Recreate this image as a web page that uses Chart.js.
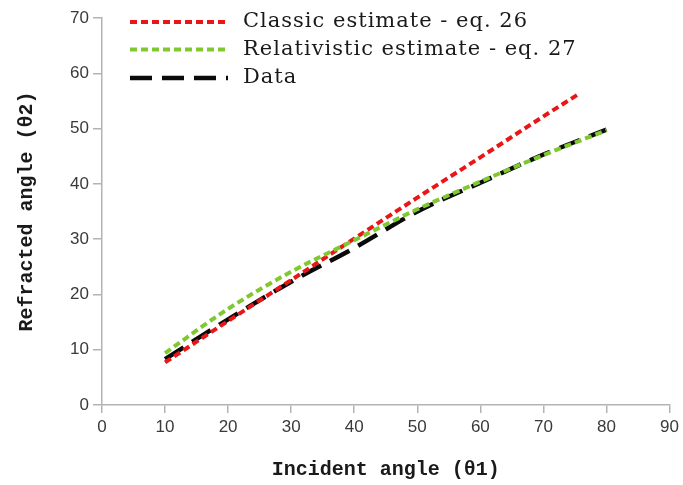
<!DOCTYPE html>
<html>
<head>
<meta charset="utf-8">
<script src="https://cdn.jsdelivr.net/npm/chart.js@4"></script>
<style>
  html, body { margin: 0; padding: 0; background: #fff; }
  #wrap { width: 683px; height: 485px; }
</style>
</head>
<body>
<div id="wrap"><canvas id="c" width="683" height="485"></canvas></div>
<script>
// ---- data ----
const classicX = [10, 20, 30, 40, 50, 60, 70, 75.4];
const classicY = [7.7, 15.2, 22.6, 30.1, 37.5, 44.8, 52.2, 56.1];
const relX = [10, 20, 30, 40, 50, 60, 70, 80];
const relY = [9.4, 17.4, 24.1, 29.8, 35.4, 40.4, 45.2, 49.7];
const dataX = [10, 20, 30, 40, 50, 60, 70, 80];
const dataY = [8.3, 15.5, 22.3, 28.4, 35.0, 40.2, 45.3, 49.8];
const seriesNames = ['Classic estimate - eq. 26', 'Relativistic estimate - eq. 27', 'Data'];
const xTitle = 'Incident angle (\u03B81)';
const yTitle = 'Refracted angle (\u03B82)';

const pts = (xs, ys) => xs.map((x, i) => ({x: x, y: ys[i]}));

const RED = 'rgb(232,22,22)';
const GREEN = 'rgb(128,200,48)';
const BLACK = 'rgb(10,10,10)';

const datasets = [
  { label: seriesNames[0], data: pts(classicX, classicY), borderColor: RED, borderWidth: 4, borderDash: [7, 4], order: 2 },
  { label: seriesNames[1], data: pts(relX, relY), borderColor: GREEN, borderWidth: 4, borderDash: [7, 4], order: 1 },
  { label: seriesNames[2], data: pts(dataX, dataY), borderColor: BLACK, borderWidth: 4.5, borderDash: [22, 10], order: 3 }
];
datasets.forEach(d => { d.pointRadius = 0; d.fill = false; d.cubicInterpolationMode = 'monotone'; d.borderCapStyle = 'butt'; });

const legendPlugin = {
  id: 'lineLegend',
  afterDraw(chart) {
    const ctx = chart.ctx;
    const rows = [22, 49.5, 78];
    const order = [0, 1, 2];
    ctx.save();
    order.forEach((di, i) => {
      const ds = chart.data.datasets[di];
      const y = rows[i];
      ctx.beginPath();
      ctx.strokeStyle = ds.borderColor;
      ctx.lineWidth = ds.borderWidth;
      ctx.setLineDash(ds.borderDash);
      ctx.moveTo(130, y);
      ctx.lineTo(228, y);
      ctx.stroke();
      ctx.setLineDash([]);
      ctx.fillStyle = '#1a1a1a';
      ctx.font = '21px "DejaVu Serif"';
      try { ctx.letterSpacing = '1px'; } catch (e) {}
      ctx.textBaseline = 'middle';
      ctx.textAlign = 'left';
      ctx.fillText(ds.label, 243, y);
    });
    ctx.restore();
  }
};

const axisColor = '#b3b3b3';
new Chart(document.getElementById('c'), {
  type: 'line',
  data: { datasets: datasets },
  options: {
    responsive: false,
    animation: false,
    events: [],
    layout: { padding: { top: 18, right: 11, left: 0, bottom: 0 } },
    plugins: { legend: { display: false }, tooltip: { enabled: false } },
    scales: {
      x: {
        type: 'linear', min: 0, max: 90,
        ticks: { stepSize: 10, color: '#3a3a3a', font: { family: '"Liberation Sans"', size: 17 }, padding: 4 },
        grid: { display: true, drawOnChartArea: false, drawTicks: true, tickLength: 8, color: axisColor, lineWidth: 1.5 },
        border: { color: axisColor, width: 1.5 },
        title: { display: true, text: xTitle, color: '#1a1a1a', font: { family: '"Liberation Mono"', size: 20, weight: 'bold' }, padding: { top: 0, bottom: 3 } },
        afterFit(s) { s.height = 80; }
      },
      y: {
        type: 'linear', min: 0, max: 70,
        ticks: { stepSize: 10, color: '#3a3a3a', font: { family: '"Liberation Sans"', size: 17 }, padding: 4 },
        grid: { display: true, drawOnChartArea: false, drawTicks: true, tickLength: 9, color: axisColor, lineWidth: 1.5 },
        border: { color: axisColor, width: 1.5 },
        title: { display: true, text: yTitle, color: '#1a1a1a', font: { family: '"Liberation Mono"', size: 20, weight: 'bold' }, padding: { top: 15, bottom: 0 } },
        afterFit(s) { s.width = 102; }
      }
    }
  },
  plugins: [legendPlugin]
});
</script>
</body>
</html>
